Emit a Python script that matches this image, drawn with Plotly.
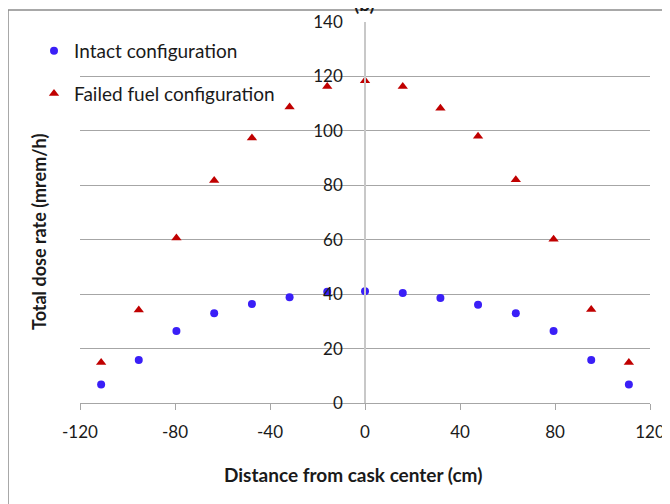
import plotly.graph_objects as go

# Data
distance_cm = [-111.1, -95.25, -79.4, -63.5, -47.6, -31.75, -15.9, 0.0,
               15.9, 31.75, 47.6, 63.5, 79.4, 95.25, 111.1]
intact = [6.8, 15.8, 26.5, 33.0, 36.4, 38.9, 40.9, 41.1,
          40.4, 38.6, 36.1, 33.0, 26.5, 15.8, 6.8]
failed = [14.9, 34.2, 60.6, 81.8, 97.4, 108.8, 116.3, 118.4,
          116.3, 108.3, 98.0, 82.0, 60.2, 34.4, 14.9]
x_ticks = [-120, -80, -40, 0, 40, 80, 120]
x_tick_labels = ["-120", "-80", "-40", "0", "40", "80", "120"]
y_ticks = [0, 20, 40, 60, 80, 100, 120, 140]

FONT = "Lato, 'Open Sans', sans-serif"
W, H = 670, 504
PAGE_OFF = 8  # browser body margin
PL, PT, PR, PB = 80, 22, 650, 403  # plot area in page pixels
L, T = PL - PAGE_OFF, PT - PAGE_OFF
PW, PH = PR - PL, PB - PT
R, B = W - L - PW, H - T - PH


def px(xp):
    return (xp - PL) / PW


def py(yp):
    return (PB - yp) / PH


fig = go.Figure()
fig.add_trace(go.Scatter(
    x=distance_cm, y=intact, mode="markers", name="Intact configuration",
    marker=dict(symbol="circle", size=8, color="#3a1ff7"), legendgroup="a"))
fig.add_trace(go.Scatter(
    x=distance_cm, y=failed, mode="markers", name="Failed fuel configuration",
    marker=dict(symbol="triangle-up", size=9, color="#c00000"), legendgroup="b"))

fig.update_layout(
    width=W, height=H,
    margin=dict(l=L, r=R, t=T, b=B, autoexpand=False),
    paper_bgcolor="white", plot_bgcolor="white",
    font=dict(family=FONT, size=17, color="#1a1a1a"),
    showlegend=True,
    legend=dict(x=px(34), y=py(32), xanchor="left", yanchor="top",
                bgcolor="rgba(0,0,0,0)", tracegroupgap=15,
                font=dict(family=FONT, size=19, color="#1a1a1a")),
    xaxis=dict(range=[-120, 120], tickvals=x_ticks, ticktext=x_tick_labels,
               showgrid=False,
               zeroline=False, showline=True, linecolor="#a6a6a6", linewidth=1,
               ticks="outside", ticklen=6, tickcolor="#a6a6a6",
               ticklabelstandoff=8, automargin=False,
               tickfont=dict(size=17), fixedrange=True),
    yaxis=dict(range=[0, 140], tickvals=y_ticks, showgrid=True,
               gridcolor="#a6a6a6", gridwidth=1, zeroline=False,
               anchor="free", position=0.5, showline=True,
               linecolor="#c8c8c8", linewidth=1.5, automargin=False,
               ticks="outside", ticklen=18, tickcolor="rgba(0,0,0,0)",
               tickfont=dict(size=17), fixedrange=True),
)

# outer chart border (partially cut by the image edges)
fig.add_shape(type="rect", xref="paper", yref="paper",
              x0=px(8), x1=px(680), y0=py(515), y1=py(10),
              line=dict(color="#8c8c8c", width=1.5), fillcolor="rgba(0,0,0,0)",
              layer="below")

fig.add_annotation(text="<b>Total dose rate (mrem/h)</b>", xref="paper", yref="paper",
                   x=px(39), y=py(232), xanchor="center", yanchor="middle",
                   textangle=-90, showarrow=False,
                   font=dict(family=FONT, size=18, color="#1a1a1a"))
fig.add_annotation(text="<b>Distance from cask center (cm)</b>", xref="paper", yref="paper",
                   x=px(353), y=py(474), xanchor="center", yanchor="middle",
                   showarrow=False,
                   font=dict(family=FONT, size=19, color="#1a1a1a"))
fig.add_annotation(text="<b>(b)</b>", xref="paper", yref="paper",
                   x=px(364), y=py(17), xanchor="center", yanchor="bottom",
                   showarrow=False,
                   font=dict(family=FONT, size=19, color="#1a1a1a"))

fig.write_html("out.html")
